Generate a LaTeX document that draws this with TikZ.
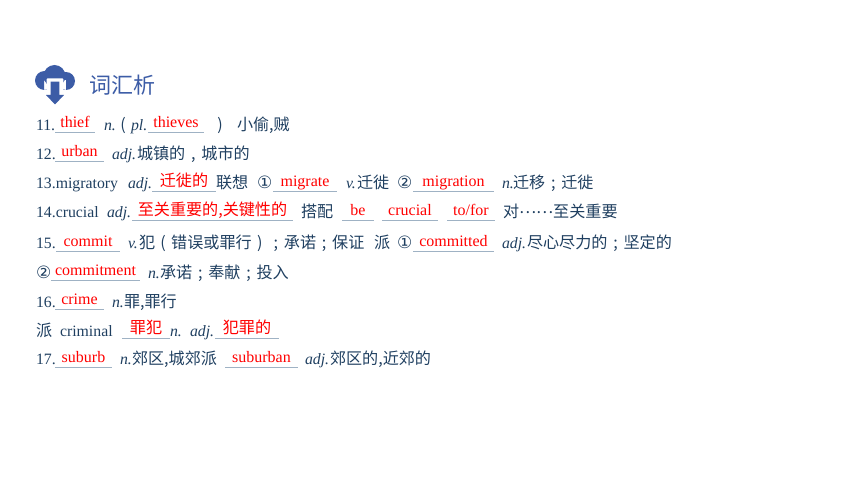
\documentclass[tikz,border=0pt]{standalone}
\usepackage{fontspec}
\setmainfont{Liberation Serif}
\newfontfamily\cjk{Noto Sans CJK SC}
\newfontfamily\circled{DejaVu Sans}
\usetikzlibrary{positioning}
\definecolor{inkblue}{HTML}{1F3F60}
\definecolor{iconblue}{HTML}{3C5CA6}
\definecolor{blankline}{HTML}{9FB2C4}
\tikzset{
    word/.style={anchor=base west, inner sep=0pt, outer sep=0pt, text=inkblue,
        font=\fontsize{15.8}{18}\selectfont},
    han/.style={word, font=\fontsize{16.1}{18}\selectfont\cjk},
    ital/.style={word, font=\fontsize{15.8}{18}\selectfont\itshape},
    ring/.style={word, font=\fontsize{17}{18}\selectfont\circled},
    answer/.style={anchor=base, inner sep=0pt, outer sep=0pt, text=red,
        font=\fontsize{16}{18}\selectfont},
    answerhan/.style={answer, font=\fontsize{16.1}{18}\selectfont\cjk},
    blankrule/.style={draw=blankline, line width=0.7pt}
}
% Satzzeichen mittig in der Zelle
\newcommand{\cell}[1]{\makebox[1em]{#1}}
% Lücke: Strich von x1 bis x2 mit Lösung darüber
% #1 Name, #2 Stil, #3 x1, #4 x2, #5 Grundlinie, #6 Text
\newcommand{\gap}[6]{%
    \coordinate (#1l) at (#3,#5+2);
    \coordinate (#1r) at (#4,#5+2);
    \draw [blankrule] (#1l) -- (#1r);
    \node (#1) [#2] at ({(#3+#4)/2},#5-2.5) {#6};
}
\begin{document}
\begin{tikzpicture}[x=1pt,y=-1pt]
    \useasboundingbox (0,0) rectangle (860,484);

    % Symbol
    \fill [iconblue] (44.5,80.5) circle (9.5) (54.5,76) circle (11) (66,81) circle (9)
                     (44,80) rectangle (66,90);
    \fill [white, rounded corners=1pt] (46.7,96) -- (46.7,78.3) -- (63.3,78.3) -- (63.3,96) -- cycle;
    \fill [iconblue] (50.7,81.7) -- (59.3,81.7) -- (59.3,95) -- (64,95) -- (55,104.5)
                     -- (46,95) -- (50.7,95) -- cycle;

    % Titel
    \node (title) [anchor=base west, inner sep=0pt, text=iconblue,
        font=\fontsize{22}{24}\selectfont\cjk] at (89,93.5) {词汇析};

    % 11
    \node (n11) [word] at (36,131) {11.};
    \gap{thief}{answer}{55}{95}{130}{thief}
    \node (n11a) [ital] at (104,131) {n.};
    \node (n11b) [han] at (115,131) {\cell{(}};
    \node (n11c) [ital] at (131,131) {pl.};
    \gap{thieves}{answer}{148}{204}{130}{thieves}
    \node (n11d) [han] at (212,131) {\cell{)}};
    \node (n11e) [han] at (237,131) {小偷,贼};

    % 12
    \node (n12) [word] at (36,159.5) {12.};
    \gap{urban}{answer}{55}{104}{159}{urban}
    \node (n12a) [ital] at (112,159.5) {adj.};
    \node (n12b) [han] at (137,159.5) {城镇的\cell{,}城市的};

    % 13
    \node (n13) [word] at (36,189) {13.migratory};
    \node (n13a) [ital] at (128,189) {adj.};
    \gap{qianxi}{answerhan}{152}{216}{189}{迁徙的}
    \node (n13b) [han] at (216,189) {联想};
    \node (n13c) [ring] at (257,189) {①};
    \gap{migrate}{answer}{273}{337}{189}{migrate}
    \node (n13d) [ital] at (346,189) {v.};
    \node (n13e) [han] at (357,189) {迁徙};
    \node (n13f) [ring] at (397,189) {②};
    \gap{migration}{answer}{413}{494}{189}{migration}
    \node (n13g) [ital] at (502,189) {n.};
    \node (n13h) [han] at (513,189) {迁移\cell{;}迁徙};

    % 14
    \node (n14) [word] at (36,218) {14.crucial};
    \node (n14a) [ital] at (107,218) {adj.};
    \gap{zhongyao}{answerhan}{132}{293}{218}{至关重要的,关键性的}
    \node (n14b) [han] at (301,218) {搭配};
    \gap{be}{answer}{342}{374}{218}{be}
    \gap{crucial}{answer}{382}{438}{218}{crucial}
    \gap{tofor}{answer}{447}{495}{218}{to/for}
    \node (n14c) [han] at (503,218) {对\raisebox{.3em}{……}至关重要};

    % 15
    \node (n15) [word] at (36,248.5) {15.};
    \gap{commit}{answer}{56}{120}{249}{commit}
    \node (n15a) [ital] at (128,248.5) {v.};
    \node (n15b) [han] at (139,248.5) {犯\cell{(}错误或罪行\cell{)}\cell{;}承诺\cell{;}保证};
    \node (n15c) [han] at (374,248.5) {派};
    \node (n15d) [ring] at (397,248.5) {①};
    \gap{committed}{answer}{413}{494}{249}{committed}
    \node (n15e) [ital] at (502,248.5) {adj.};
    \node (n15f) [han] at (527,248.5) {尽心尽力的\cell{;}坚定的};

    \node (n15g) [ring] at (36,278) {②};
    \gap{commitment}{answer}{51}{140}{278}{commitment}
    \node (n15h) [ital] at (148,278) {n.};
    \node (n15i) [han] at (160,278) {承诺\cell{;}奉献\cell{;}投入};

    % 16
    \node (n16) [word] at (36,307) {16.};
    \gap{crime}{answer}{55}{104}{307}{crime}
    \node (n16a) [ital] at (112,307) {n.};
    \node (n16b) [han] at (124,307) {罪,罪行};

    \node (n16c) [han] at (36,336) {派};
    \node (n16d) [word] at (60,336) {criminal};
    \gap{zuifan}{answerhan}{122}{170}{336}{罪犯}
    \node (n16e) [ital] at (170,336) {n.};
    \node (n16f) [ital] at (190,336) {adj.};
    \gap{fanzui}{answerhan}{215}{279}{336}{犯罪的}

    % 17
    \node (n17) [word] at (36,364.5) {17.};
    \gap{suburb}{answer}{55}{112}{365}{suburb}
    \node (n17a) [ital] at (120,364.5) {n.};
    \node (n17b) [han] at (132,364.5) {郊区,城郊派};
    \gap{suburban}{answer}{225}{298}{365}{suburban}
    \node (n17c) [ital] at (305,364.5) {adj.};
    \node (n17d) [han] at (330,364.5) {郊区的,近郊的};
\end{tikzpicture}
\end{document}
